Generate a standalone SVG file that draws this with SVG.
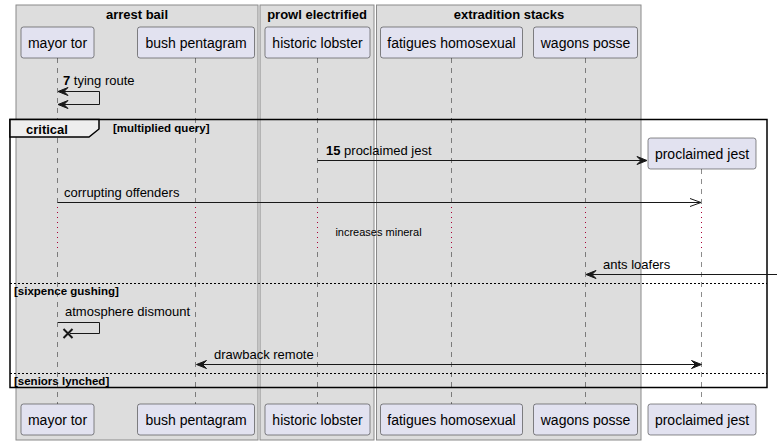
<svg xmlns="http://www.w3.org/2000/svg" width="781" height="445" viewBox="0 0 781 445">
  <style>
    .box { fill: #DDDDDD; stroke: #8a8a8a; stroke-width: 1; }
    .boxtitle { font-family: "Liberation Sans", Arial, sans-serif; font-size: 13px; font-weight: bold; fill: #000; text-anchor: middle; }
    .part { fill: #E2E2F0; stroke: #181818; stroke-width: 0.5; }
    .ptext { font-family: "Liberation Sans", Arial, sans-serif; font-size: 14px; fill: #000; text-anchor: middle; }
    .life { stroke: #181818; stroke-width: 0.5; stroke-dasharray: 5,5; fill: none; }
    .delay { stroke: #A80036; stroke-width: 1; stroke-dasharray: 1,4; fill: none; }
    .msg { stroke: #181818; stroke-width: 1; fill: none; }
    .head { fill: #181818; stroke: #181818; stroke-width: 1; }
    .mtext { font-family: "Liberation Sans", Arial, sans-serif; font-size: 13px; fill: #000; }
    .num { font-weight: bold; }
    .frame { fill: none; stroke: #000; stroke-width: 1.5; }
    .tab { fill: #EEEEEE; stroke: #000; stroke-width: 1.5; }
    .sep { stroke: #000; stroke-width: 1; stroke-dasharray: 2,2; fill: none; }
    .ftitle { font-family: "Liberation Sans", Arial, sans-serif; font-size: 13px; font-weight: bold; fill: #000; }
    .fguard { font-family: "Liberation Sans", Arial, sans-serif; font-size: 11.5px; font-weight: bold; fill: #000; }
    .dtext { font-family: "Liberation Sans", Arial, sans-serif; font-size: 11px; fill: #000; text-anchor: middle; }
  </style>

  <!-- grouping boxes -->
  <g id="box-arrest-bail">
    <rect class="box" x="16" y="5" width="242" height="435"/>
    <text class="boxtitle" x="137" y="19">arrest bail</text>
  </g>
  <g id="box-prowl-electrified">
    <rect class="box" x="260" y="5" width="114" height="435"/>
    <text class="boxtitle" x="317" y="19">prowl electrified</text>
  </g>
  <g id="box-extradition-stacks">
    <rect class="box" x="376.5" y="5" width="264.5" height="435"/>
    <text class="boxtitle" x="509" y="19">extradition stacks</text>
  </g>

  <!-- participants: head, lifeline, foot -->
  <g id="mayor-tor">
    <path class="life" d="M57.5,58 V207 M57.5,252 V404"/>
    <path class="delay" d="M57.5,207 V252"/>
    <rect class="part" x="21" y="27" width="73" height="31" rx="2.5"/>
    <text class="ptext" x="57.5" y="48">mayor tor</text>
    <rect class="part" x="21" y="404" width="73" height="31" rx="2.5"/>
    <text class="ptext" x="57.5" y="425">mayor tor</text>
  </g>
  <g id="bush-pentagram">
    <path class="life" d="M195.5,58 V207 M195.5,252 V404"/>
    <path class="delay" d="M195.5,207 V252"/>
    <rect class="part" x="137.5" y="27" width="117" height="31" rx="2.5"/>
    <text class="ptext" x="196" y="48">bush pentagram</text>
    <rect class="part" x="137.5" y="404" width="117" height="31" rx="2.5"/>
    <text class="ptext" x="196" y="425">bush pentagram</text>
  </g>
  <g id="historic-lobster">
    <path class="life" d="M317.5,58 V207 M317.5,252 V404"/>
    <path class="delay" d="M317.5,207 V252"/>
    <rect class="part" x="265" y="27" width="105" height="31" rx="2.5"/>
    <text class="ptext" x="317.5" y="48">historic lobster</text>
    <rect class="part" x="265" y="404" width="105" height="31" rx="2.5"/>
    <text class="ptext" x="317.5" y="425">historic lobster</text>
  </g>
  <g id="fatigues-homosexual">
    <path class="life" d="M451.5,58 V207 M451.5,252 V404"/>
    <path class="delay" d="M451.5,207 V252"/>
    <rect class="part" x="380.5" y="27" width="142" height="31" rx="2.5"/>
    <text class="ptext" x="451.5" y="48">fatigues homosexual</text>
    <rect class="part" x="380.5" y="404" width="142" height="31" rx="2.5"/>
    <text class="ptext" x="451.5" y="425">fatigues homosexual</text>
  </g>
  <g id="wagons-posse">
    <path class="life" d="M585.5,58 V207 M585.5,252 V404"/>
    <path class="delay" d="M585.5,207 V252"/>
    <rect class="part" x="533.5" y="27" width="104" height="31" rx="2.5"/>
    <text class="ptext" x="585.5" y="48">wagons posse</text>
    <rect class="part" x="533.5" y="404" width="104" height="31" rx="2.5"/>
    <text class="ptext" x="585.5" y="425">wagons posse</text>
  </g>
  <g id="proclaimed-jest">
    <path class="life" d="M701.5,169 V207 M701.5,252 V404"/>
    <path class="delay" d="M701.5,207 V252"/>
    <rect class="part" x="648" y="138" width="108" height="31" rx="2.5"/>
    <text class="ptext" x="702" y="159">proclaimed jest</text>
    <rect class="part" x="648" y="404" width="108" height="31" rx="2.5"/>
    <text class="ptext" x="702" y="425">proclaimed jest</text>
  </g>

  <!-- critical fragment -->
  <g id="fragment-critical">
    <rect class="frame" x="10" y="119.5" width="757" height="268"/>
    <path class="tab" d="M10,119.5 H99 V129 L89,137 H10 Z"/>
    <text class="ftitle" x="26" y="134">critical</text>
    <text class="fguard" x="113" y="132">[multiplied query]</text>
    <line class="sep" x1="10" y1="283.5" x2="767" y2="283.5"/>
    <text class="fguard" x="14" y="295">[sixpence gushing]</text>
    <line class="sep" x1="10" y1="373.5" x2="767" y2="373.5"/>
    <text class="fguard" x="14" y="384.5">[seniors lynched]</text>
  </g>

  <!-- messages -->
  <g id="connectors">
    <!-- 7 tying route : self, both ends -->
    <path class="msg" d="M58,91.5 H99.5 V104.5 H58"/>
    <polygon class="head" points="58,91.5 68,87.5 64,91.5 68,95.5"/>
    <polygon class="head" points="58,104.5 68,100.5 64,104.5 68,108.5"/>
    <text class="mtext" x="63" y="85"><tspan class="num">7</tspan> tying route</text>

    <!-- 15 proclaimed jest : creates participant -->
    <line class="msg" x1="317.5" y1="160.5" x2="646" y2="160.5"/>
    <polygon class="head" points="647,160.5 637,156.5 641,160.5 637,164.5"/>
    <text class="mtext" x="326" y="155"><tspan class="num">15</tspan> proclaimed jest</text>

    <!-- corrupting offenders : open head -->
    <line class="msg" x1="57.5" y1="202.5" x2="701" y2="202.5"/>
    <path class="msg" d="M690,198.5 L701,202.5 L690,206.5"/>
    <text class="mtext" x="64" y="197">corrupting offenders</text>

    <!-- delay -->
    <text class="dtext" x="378.5" y="236">increases mineral</text>

    <!-- ants loafers : from outside -->
    <line class="msg" x1="777" y1="274.5" x2="587" y2="274.5"/>
    <polygon class="head" points="586,274.5 596,270.5 592,274.5 596,278.5"/>
    <text class="mtext" x="603" y="269">ants loafers</text>

    <!-- atmosphere dismount : self, destroy -->
    <path class="msg" d="M58,322.5 H99.5 V333.5 H70"/>
    <path d="M63.5,329 L72.5,338 M72.5,329 L63.5,338" stroke="#181818" stroke-width="2" fill="none"/>
    <text class="mtext" x="65" y="316">atmosphere dismount</text>

    <!-- drawback remote : both directions -->
    <line class="msg" x1="197" y1="364.5" x2="701" y2="364.5"/>
    <polygon class="head" points="196.5,364.5 206.5,360.5 202.5,364.5 206.5,368.5"/>
    <polygon class="head" points="701.5,364.5 691.5,360.5 695.5,364.5 691.5,368.5"/>
    <text class="mtext" x="214" y="359">drawback remote</text>
  </g>
</svg>
